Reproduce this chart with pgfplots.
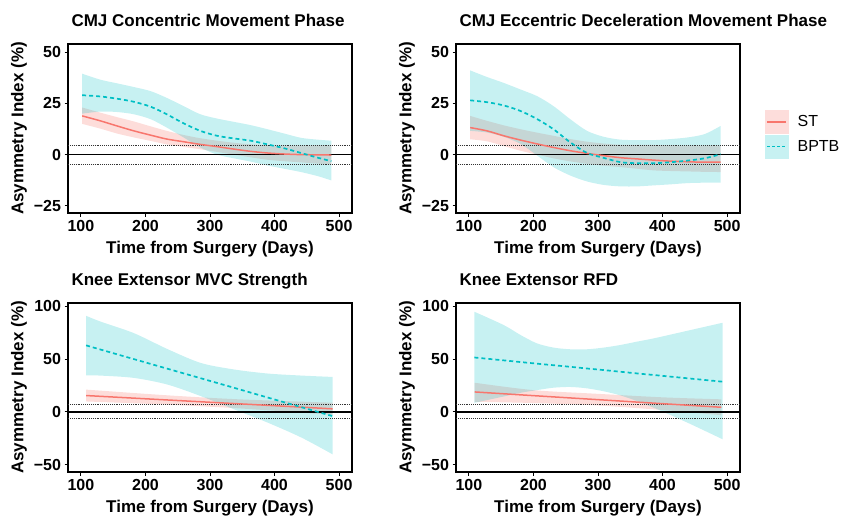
\documentclass[border=0pt]{standalone}
\usepackage{fontspec}
\setmainfont{Liberation Sans}
\usepackage{pgfplots}
\pgfplotsset{compat=1.18}
\usepackage{pgfplotstable}
\usepgfplotslibrary{fillbetween}

\definecolor{stc}{HTML}{F8766D}
\definecolor{bpc}{HTML}{00BFC4}

% CMJ concentric
\pgfplotstableread{
x   y     lo    hi
102 18.9  15.0  23.0
130 16.5  12.7  20.5
156 14.0  10.3  18.3
182 11.6   8.4  16.2
208  9.5   6.7  13.8
233  7.6   5.0  11.6
259  6.3   3.8   9.6
285  5.0   2.6   8.0
311  3.9   1.3   6.8
337  2.7   0.0   5.8
363  1.6  -1.3   5.0
389  0.8  -2.5   4.6
415  0.3  -3.2   4.4
441  0.0  -3.8   4.4
467 -0.1  -4.4   4.5
488 -0.2  -5.0   4.6
}\conST
\pgfplotstableread{
x   y     lo    hi
102 29.0  20.0  39.5
130 28.4  21.0  36.6
156 27.3  20.8  34.8
182 25.8  19.7  33.0
208 23.4  17.3  31.0
233 19.7  13.2  27.7
259 15.3   8.4  23.7
285 11.6   3.5  19.7
311  9.2   0.0  17.6
337  7.9  -1.8  16.0
363  6.8  -3.4  14.4
389  5.0  -5.3  12.4
415  3.1  -6.9  10.3
441  0.8  -8.5   8.2
467 -1.5 -10.5   7.3
488 -3.2 -12.6   6.8
}\conBP
% CMJ eccentric deceleration
\pgfplotstableread{
x   y     lo    hi
102 13.2   7.5  18.9
128 11.6   6.5  16.5
154  9.2   4.2  14.3
180  7.1   1.9  12.4
206  5.2   0.0  10.7
231  3.5  -1.8   9.2
257  1.9  -3.3   7.6
283  0.6  -4.5   6.3
309 -0.5  -5.4   5.4
335 -1.5  -6.1   4.8
361 -2.1  -6.9   4.7
387 -2.7  -7.7   4.7
413 -3.2  -8.0   4.5
439 -3.5  -8.2   4.4
465 -3.7  -8.4   4.4
490 -3.7  -8.5   4.4
}\eccST
\pgfplotstableread{
x   y     lo    hi
102 26.5  11.6  41.1
128 25.6  10.8  37.9
154 24.0   8.7  35.0
180 21.3   5.2  31.8
206 17.3  -0.5  28.5
231 12.4  -6.1  23.7
257  6.0 -10.2  17.3
283  0.8 -13.1  11.6
309 -1.6 -14.8   8.7
335 -3.7 -15.5   7.3
361 -4.2 -15.5   7.1
387 -4.2 -15.0   7.1
413 -3.7 -14.5   7.6
439 -2.9 -13.9   8.4
465 -1.8 -13.7  10.0
490  0.2 -13.7  14.0
}\eccBP
% knee extensor MVC strength
\pgfplotstableread{
x   y     lo    hi
108 15.4   9.8  21.0
234 11.2   6.8  15.6
338  7.8   3.5  12.0
442  4.4  -0.8   9.6
490  2.8  -3.0   8.6
}\mvcST
\pgfplotstableread{
x   y     lo    hi
108 62.9  34.6  90.9
130 59.0  34.3  85.5
182 49.9  32.1  74.5
234 40.8  25.8  59.4
286 31.7  14.8  46.2
338 22.6   2.2  40.0
390 13.4 -10.4  36.2
442  4.3 -24.5  34.3
490 -4.1 -40.3  33.0
}\mvcBP
% knee extensor RFD
\pgfplotstableread{
x   y     lo    hi
109 18.8   9.5  27.5
200 15.3   8.3  20.5
300 11.5   6.0  17.0
400  7.7   1.7  13.7
491  4.3  -3.2  11.8
}\rfdST
\pgfplotstableread{
x     y     lo    hi
108.5 51.4   8.5  94.7
154   48.7  14.5  82.1
180   47.1  18.0  72.7
205   45.6  20.5  64.9
231   44.1  22.8  60.8
257   42.6  23.5  59.2
283   41.0  22.2  59.2
309   39.5  19.4  60.8
335   37.9  15.5  63.3
361   36.3  10.0  66.5
387   34.8   3.7  69.6
439   31.7 -10.4  76.8
493   28.5 -26.0  84.3
}\rfdBP

\pgfplotsset{
  panel/.style={
    scale only axis, width=284pt, height=169pt, anchor=north west,
    xmin=80, xmax=520, xtick={100,200,300,400,500},
    axis line style={line width=1.4pt},
    tick align=outside, major tick length=3.5pt,
    tick style={line width=0.9pt, black},
    xtick pos=bottom, ytick pos=left,
    /pgf/number format/assume math mode=true,
    ticklabel style={font=\fontsize{16}{19}\selectfont\bfseries},
    label style={font=\fontsize{17}{20}\selectfont\bfseries},
    xlabel={Time from Surgery (Days)},
    xlabel style={yshift=-3pt},
    ylabel={Asymmetry Index (\%)},
    title style={at={(0,1)}, anchor=base west, yshift=11.5pt,
      font=\fontsize{17}{20}\selectfont\bfseries},
  },
  toprow/.style={ymin=-28.5, ymax=54, ytick={-25,0,25,50},
    yticklabels={−25,0,25,50}},
  botrow/.style={ymin=-57, ymax=103, ytick={-50,0,50,100},
    yticklabels={−50,0,50,100}},
}

\newcommand{\drawpanel}[3]{%
  \addplot[name path=sh, draw=none, smooth, forget plot] table[x=x,y=hi] {#1};
  \addplot[name path=sl, draw=none, smooth, forget plot] table[x=x,y=lo] {#1};
  \addplot[fill=stc, fill opacity=0.25, draw=none, forget plot] fill between[of=sh and sl];
  \addplot[name path=bh, draw=none, smooth, forget plot] table[x=x,y=hi] {#2};
  \addplot[name path=bl, draw=none, smooth, forget plot] table[x=x,y=lo] {#2};
  \addplot[fill=bpc, fill opacity=0.22, draw=none, forget plot] fill between[of=bh and bl];
  \addplot[black, line width=1.4pt, forget plot] coordinates {(80,0) (520,0)};
  \addplot[densely dotted, black!80, line width=0.9pt, forget plot] coordinates {(80,#3) (520,#3)};
  \addplot[densely dotted, black!80, line width=0.9pt, forget plot] coordinates {(80,-#3) (520,-#3)};
  \addplot[stc, line width=1.5pt, smooth, forget plot] table[x=x,y=y] {#1};
  \addplot[bpc, line width=1.7pt, dash pattern=on 4pt off 3pt, smooth, forget plot] table[x=x,y=y] {#2};
}

\begin{document}
\begin{tikzpicture}

\begin{axis}[panel, toprow, at={(68pt,-44pt)}, title={CMJ Concentric Movement Phase}]
  \drawpanel{\conST}{\conBP}{4.7}
\end{axis}

\begin{axis}[panel, toprow, at={(456pt,-44pt)}, title={CMJ Eccentric Deceleration Movement Phase},
    legend cell align=left,
    legend style={at={(1.088,0.609)}, anchor=north west, draw=none, fill=none,
      font=\fontsize{16}{19}\selectfont, row sep=1pt, column sep=9pt,
      inner sep=0pt, nodes={inner sep=0pt}}]
  \drawpanel{\eccST}{\eccBP}{4.7}
  \addlegendimage{legend image code/.code={
    \fill[stc!25] (0pt,-11.5pt) rectangle (23pt,11.5pt);
    \draw[stc, line width=1.4pt] (2pt,0pt) -- (21pt,0pt);}}
  \addlegendentry{ST}
  \addlegendimage{legend image code/.code={
    \fill[bpc!22] (0pt,-11.5pt) rectangle (23pt,11.5pt);
    \draw[bpc, line width=1.6pt, dash pattern=on 3pt off 2pt] (2pt,0pt) -- (21pt,0pt);}}
  \addlegendentry{BPTB}
\end{axis}

\begin{axis}[panel, botrow, at={(68pt,-303pt)}, title={Knee Extensor MVC Strength}]
  \drawpanel{\mvcST}{\mvcBP}{6.5}
\end{axis}

\begin{axis}[panel, botrow, at={(456pt,-303pt)}, title={Knee Extensor RFD}]
  \drawpanel{\rfdST}{\rfdBP}{6.5}
\end{axis}

\pgfresetboundingbox
\path[use as bounding box] (0,0) rectangle (843pt,-515pt);
\end{tikzpicture}
\end{document}
